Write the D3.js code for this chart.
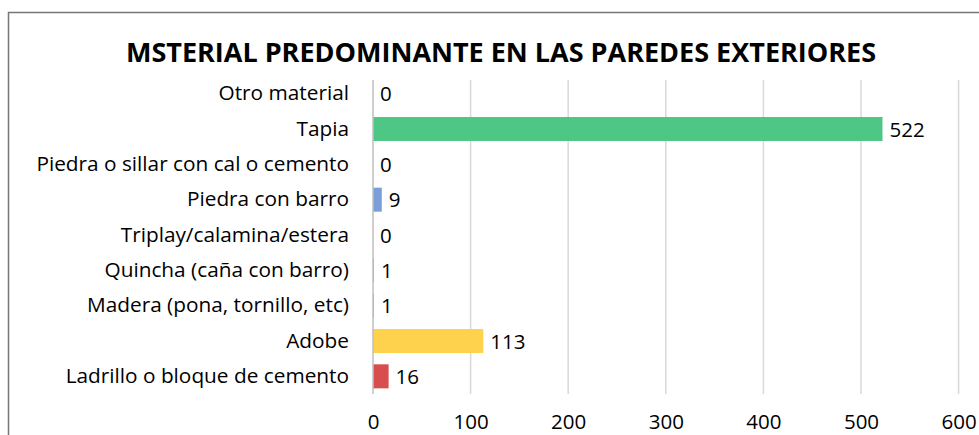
<!DOCTYPE html>
<html>
<head>
<meta charset="utf-8">
<script src="https://cdn.jsdelivr.net/npm/d3@7"></script>
<style>
  body { margin: 0; background: #fff; }
  svg text { font-family: "Open Sans", "Noto Sans", sans-serif; fill: #000; }
</style>
</head>
<body>
<div id="bar_chart"></div>
<script>
// data, top row first (as in the picture)
var categories = [
    "Otro material",
    "Tapia",
    "Piedra o sillar con cal o cemento",
    "Piedra con barro",
    "Triplay/calamina/estera",
    "Quincha (caña con barro)",
    "Madera (pona, tornillo, etc)",
    "Adobe",
    "Ladrillo o bloque de cemento"
];
var values = [0, 522, 0, 9, 0, 1, 1, 113, 16];
var xTicks = [0, 100, 200, 300, 400, 500, 600];
var title = "MSTERIAL PREDOMINANTE EN LAS PAREDES EXTERIORES";

var W = 979, H = 435;

var margin = {top: 76, left: 373, right: 22, bottom: 41};

var svg = d3.select("#bar_chart").append("svg")
    .attr("width", W)
    .attr("height", H);

// chart frame (runs off the right and bottom edges)
svg.append("rect")
    .attr("x", 8.5).attr("y", 12.5)
    .attr("width", W + 20).attr("height", H + 20)
    .attr("fill", "none")
    .attr("stroke", "#767676")
    .attr("stroke-width", 1.5);

var x = d3.scaleLinear()
    .domain([0, 600])
    .range([margin.left, margin.left + 6 * 97.6]);

var y = d3.scaleBand()
    .domain(categories)
    .range([margin.top, H - margin.bottom])
    .paddingInner(0.32)
    .paddingOuter(0.16);

var colour = d3.scaleOrdinal()
    .domain(categories)
    .range(["#4dc783", "#4dc783", "#4dc783", "#7b9ed9", "#7b9ed9", "#a5a5a5", "#a5a5a5", "#fed24d", "#d84e4e"]);

// vertical gridlines
svg.append("g")
    .attr("class", "grid")
    .selectAll("line")
    .data(xTicks.slice(1))
    .enter()
    .append("line")
    .attr("x1", function (d) { return x(d); })
    .attr("x2", function (d) { return x(d); })
    .attr("y1", 80)
    .attr("y2", H - margin.bottom)
    .attr("stroke", "#d9d9d9")
    .attr("stroke-width", 1.5);

// bars
var rows = categories.map(function (c, i) { return {name: c, value: values[i]}; });

svg.selectAll(".bar")
    .data(rows)
    .enter()
    .append("rect")
    .attr("class", "bar")
    .attr("x", x(0))
    .attr("y", function (d) { return y(d.name); })
    .attr("width", function (d) { return x(d.value) - x(0); })
    .attr("height", y.bandwidth())
    .attr("fill", function (d) { return colour(d.name); });

// value axis line
svg.append("line")
    .attr("x1", x(0)).attr("x2", x(0))
    .attr("y1", 80).attr("y2", H - margin.bottom)
    .attr("stroke", "#bfbfbf")
    .attr("stroke-width", 1.5);

// category labels
var yAxis = d3.axisLeft(y).tickSize(0).tickPadding(24);
var gy = svg.append("g")
    .attr("transform", "translate(" + x(0) + ",0)")
    .call(yAxis);
gy.select(".domain").remove();
gy.selectAll("text")
    .attr("font-size", 20.8)
    .attr("fill", "#000")
    .style("font-family", "'Open Sans', sans-serif");

// x tick labels
var xAxis = d3.axisBottom(x).tickValues(xTicks).tickSize(0).tickPadding(20);
var gx = svg.append("g")
    .attr("transform", "translate(0," + (H - margin.bottom) + ")")
    .call(xAxis);
gx.select(".domain").remove();
gx.selectAll("text")
    .attr("font-size", 20.5)
    .attr("fill", "#000")
    .style("font-family", "'Open Sans', sans-serif");

// value labels
svg.selectAll(".label")
    .data(rows)
    .enter()
    .append("text")
    .attr("class", "label")
    .attr("x", function (d) { return x(d.value) + 7; })
    .attr("y", function (d) { return y(d.name) + y.bandwidth() / 2; })
    .attr("dy", "0.38em")
    .attr("font-size", 20.5)
    .text(function (d) { return d.value; });

// title
svg.append("text")
    .attr("x", 501)
    .attr("y", 62)
    .attr("text-anchor", "middle")
    .attr("font-size", 27)
    .attr("font-weight", "bold")
    .text(title);
</script>
</body>
</html>
